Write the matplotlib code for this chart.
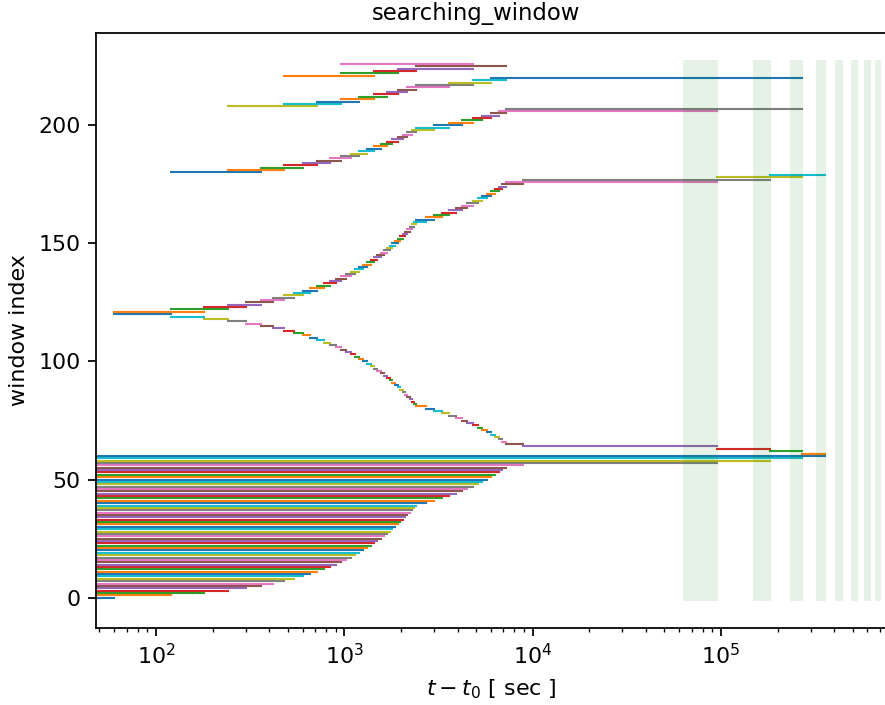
import numpy as np
import matplotlib
matplotlib.use('Agg')
import matplotlib.pyplot as plt

# first level windows (index 0..60): all open at t0, end times in sec
base_start = 1.0
base_end = [60, 120, 180, 240, 300, 360, 420, 480, 540, 600,
            660, 720, 780, 840, 900, 960, 1020, 1080, 1140, 1200,
            1260, 1320, 1380, 1440, 1500, 1560, 1620, 1680, 1740, 1800,
            1860, 1920, 1980, 2040, 2100, 2160, 2220, 2280, 2340, 2400,
            2700, 3000, 3300, 3600, 3900, 4200, 4500, 4800, 5100, 5400,
            5700, 6000, 6300, 6600, 6900, 7200, 8900, 95000, 182000, 270000,
            357000]

# windows 61..120 (short branch going down)
down_start = [270000, 182000, 95000, 8900, 7200, 6900, 6600, 6300, 6000, 5700,
              5400, 5100, 4800, 4500, 4200, 3900, 3600, 3300, 3000, 2700,
              2400, 2340, 2280, 2220, 2160, 2100, 2040, 1980, 1920, 1860,
              1800, 1740, 1680, 1620, 1560, 1500, 1440, 1380, 1320, 1260,
              1200, 1140, 1080, 1020, 960, 900, 840, 780, 720, 660,
              600, 540, 480, 420, 360, 300, 240, 180, 120, 60]
down_end = [357000, 270000, 182000, 95000, 8900, 7200, 6900, 6600, 6300, 6000,
            5700, 5400, 5100, 4800, 4500, 4200, 3900, 3600, 3300, 3000,
            2700, 2400, 2340, 2280, 2220, 2160, 2100, 2040, 1980, 1920,
            1860, 1800, 1740, 1680, 1620, 1560, 1500, 1440, 1380, 1320,
            1260, 1200, 1140, 1080, 1020, 960, 900, 840, 780, 720,
            660, 600, 540, 480, 420, 360, 300, 240, 180, 120]

# windows 121..179 (double length, going up)
up_start = [60, 120, 180, 240, 300, 360, 420, 480, 540, 600,
            660, 720, 780, 840, 900, 960, 1020, 1080, 1140, 1200,
            1260, 1320, 1380, 1440, 1500, 1560, 1620, 1680, 1740, 1800,
            1860, 1920, 1980, 2040, 2100, 2160, 2220, 2280, 2340, 2400,
            2700, 3000, 3300, 3600, 3900, 4200, 4500, 4800, 5100, 5400,
            5700, 6000, 6300, 6600, 6900, 7200, 8900, 95000, 182000]
up_end = [180, 240, 300, 360, 420, 480, 540, 600, 660, 720,
          780, 840, 900, 960, 1020, 1080, 1140, 1200, 1260, 1320,
          1380, 1440, 1500, 1560, 1620, 1680, 1740, 1800, 1860, 1920,
          1980, 2040, 2100, 2160, 2220, 2280, 2340, 2400, 2700, 3000,
          3300, 3600, 3900, 4200, 4500, 4800, 5100, 5400, 5700, 6000,
          6300, 6600, 6900, 7200, 8900, 95000, 182000, 270000, 357000]

# windows 180..207
quad_start = [120, 240, 360, 480, 600, 720, 840, 960, 1080, 1200,
              1320, 1440, 1560, 1680, 1800, 1920, 2040, 2160, 2280, 2400,
              3000, 3600, 4200, 4800, 5400, 6000, 6600, 7200]
quad_end = [360, 480, 600, 720, 840, 960, 1080, 1200, 1320, 1440,
            1560, 1680, 1800, 1920, 2040, 2160, 2280, 2400, 3000, 3600,
            4200, 4800, 5400, 6000, 6600, 7200, 95000, 270000]

# windows 208..220
oct_start = [240, 480, 720, 960, 1200, 1440, 1680, 1920, 2160, 2400, 3600, 4800, 6000]
oct_end = [720, 960, 1200, 1440, 1680, 1920, 2160, 2400, 3600, 4800, 6000, 7200, 270000]

# windows 221..226
top_start = [480, 960, 1440, 1920, 2400, 960]
top_end = [1440, 1920, 2400, 4800, 7200, 4800]

# shaded periods
span_start = [62700, 148000, 233000, 319000, 403500, 489000, 575000, 658000]
span_end = [96500, 184600, 272000, 360000, 446700, 534700, 624500, 711000]

win_start = down_start + up_start + quad_start + oct_start + top_start
win_end = down_end + up_end + quad_end + oct_end + top_end

DPI = 159
fig = plt.figure(figsize=(885 / DPI, 705 / DPI), dpi=DPI)
# right spine falls just outside the picture
ax = fig.add_axes([96 / 885, 77.3 / 705, 790 / 885, 594.4 / 705])

for i, te in enumerate(base_end):
    ax.plot([base_start, te], [i, i], lw=0.95)
n0 = len(base_end)
for j, (ts, te) in enumerate(zip(win_start, win_end)):
    ax.plot([ts, te], [n0 + j, n0 + j], lw=0.95)

for s, e in zip(span_start, span_end):
    ax.fill_between([s, e], -1.5, 227.6, color='g', alpha=0.1, lw=0, zorder=3)

ax.set_xscale('log')
ax.set_xlim(48.0, 753000)
ax.set_ylim(-12.7, 238.9)
ax.set_xlabel(r'$t - t_0$ [ sec ]')
ax.set_ylabel('window index')
fig.suptitle('searching_window', x=476 / 885, y=1 - 2 / 705, fontsize=10.3)

fig.savefig('out.png', dpi=DPI)
